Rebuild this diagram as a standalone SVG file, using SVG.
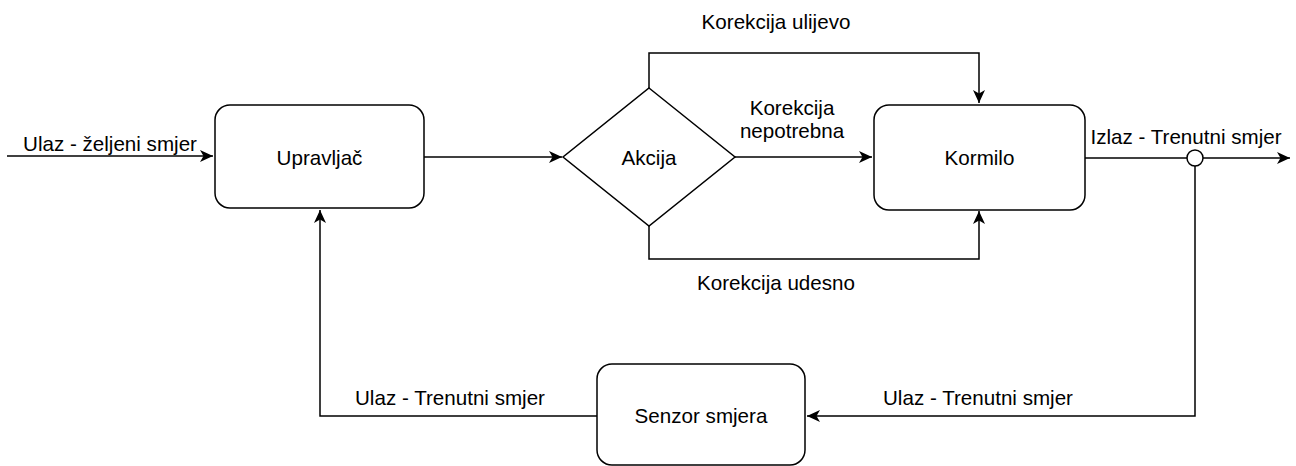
<svg xmlns="http://www.w3.org/2000/svg" width="1296" height="466" viewBox="0 0 1296 466">
<style>
.box{fill:#fff;stroke:#000;stroke-width:1.5}
.ln{fill:none;stroke:#000;stroke-width:1.5}
text{font-family:"Liberation Sans",Arial,sans-serif;font-size:20.6px;fill:#000}
.c{text-anchor:middle;dominant-baseline:central}
.m{text-anchor:middle}
</style>
<defs>
<marker id="arr" markerUnits="userSpaceOnUse" markerWidth="14" markerHeight="12" refX="13" refY="6" orient="auto" viewBox="0 0 14 12">
<path d="M0,0 L13,6 L0,12 L3.5,6 Z" fill="#000"/>
</marker>
</defs>
<g id="connectors">
<path class="ln" d="M7,156 H213" marker-end="url(#arr)"/>
<path class="ln" d="M424,157 H562" marker-end="url(#arr)"/>
<path class="ln" d="M735,157 H872" marker-end="url(#arr)"/>
<path class="ln" d="M649,88 V53 H979 V103" marker-end="url(#arr)"/>
<path class="ln" d="M649,226 V259 H979 V211" marker-end="url(#arr)"/>
<path class="ln" d="M1085,158 H1187"/>
<path class="ln" d="M1203,158 H1290" marker-end="url(#arr)"/>
<path class="ln" d="M1195,166 V416 H807" marker-end="url(#arr)"/>
<path class="ln" d="M597,416 H320 V210" marker-end="url(#arr)"/>
<circle cx="1195" cy="158" r="8" fill="#fff" stroke="#000" stroke-width="1.5"/>
<text x="110" y="151" class="m">Ulaz - željeni smjer</text>
<text x="776" y="29" class="m">Korekcija ulijevo</text>
<text x="792" y="115" class="m">Korekcija</text>
<text x="792" y="138" class="m">nepotrebna</text>
<text x="776" y="290" class="m">Korekcija udesno</text>
<text x="1186" y="144" class="m">Izlaz - Trenutni smjer</text>
<text x="450" y="405" class="m">Ulaz - Trenutni smjer</text>
<text x="978" y="405" class="m">Ulaz - Trenutni smjer</text>
</g>
<g id="upravljac">
<rect class="box" x="215" y="105" width="209" height="103" rx="15"/>
<text x="319.5" y="157" class="c">Upravljač</text>
</g>
<g id="akcija">
<path class="box" d="M649,88 L735,157 L649,226 L563,157 Z"/>
<text x="649" y="157" class="c">Akcija</text>
</g>
<g id="kormilo">
<rect class="box" x="874" y="105" width="211" height="105" rx="15"/>
<text x="979.5" y="157" class="c">Kormilo</text>
</g>
<g id="senzor">
<rect class="box" x="597" y="364" width="208" height="101" rx="15"/>
<text x="701" y="415" class="c">Senzor smjera</text>
</g>
</svg>
